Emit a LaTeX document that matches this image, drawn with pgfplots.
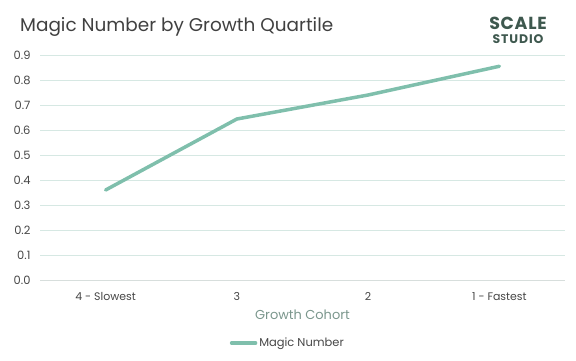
\documentclass[border=0pt]{standalone}
\usepackage{pgfplots}
\pgfplotsset{compat=1.18}
\usepackage{fontspec}
\setmainfont{Poppins}
\definecolor{linec}{RGB}{127,191,172}
\definecolor{gridc}{RGB}{214,232,227}
\definecolor{titlec}{RGB}{64,64,64}
\definecolor{labc}{RGB}{122,150,140}
\definecolor{logoc}{RGB}{62,88,78}
\definecolor{tickc}{RGB}{70,70,70}
\begin{document}
\begin{tikzpicture}[x=1bp,y=1bp]
\useasboundingbox (0,0) rectangle (576,360);
\node[anchor=base west,inner sep=0pt,text=titlec,font=\fontsize{18.5}{20}\selectfont] at (20,329) {Magic Number by Growth Quartile};
\node[anchor=base,inner sep=0pt,text=logoc,font=\fontsize{17.5}{18}\selectfont\bfseries\addfontfeatures{LetterSpace=4}] at (518,331) {SCALE};
\node[anchor=base,inner sep=0pt,text=logoc,font=\fontsize{12.5}{13}\selectfont\bfseries\addfontfeatures{LetterSpace=7}] at (518,317) {STUDIO};
\begin{axis}[
  at={(40bp,80bp)}, anchor=south west,
  width=525bp, height=225bp, scale only axis,
  xmin=-0.5, xmax=3.5, ymin=0, ymax=0.9,
  xtick={0,1,2,3}, xticklabels={4 - Slowest,3,2,1 - Fastest},
  ytick={0,0.1,...,0.9},
  yticklabel style={/pgf/number format/fixed, /pgf/number format/fixed zerofill, /pgf/number format/precision=1, xshift=-6bp, font=\fontsize{11.5}{12}\selectfont},
  /pgf/number format/assume math mode=true,
  ymajorgrids, grid style={gridc, line width=0.8bp},
  axis line style={draw=none},
  axis x line*=bottom,
  major tick length=0pt,
  tick label style={font=\fontsize{11}{12}\selectfont, text=tickc},
  xticklabel style={yshift=-9bp},
  xlabel={Growth Cohort},
  xlabel style={font=\fontsize{13}{14}\selectfont, text=labc, yshift=-2bp},
  legend style={at={(0.472,-0.28)}, anchor=center, draw=none, fill=none, font=\fontsize{11.5}{12}\selectfont, text=tickc, inner sep=0pt},
  legend image code/.code={\draw[#1, line width=3.5bp] (0bp,0bp) -- (24bp,0bp);},
  legend cell align=left,
  clip=false,
]
\draw[gridc!70!gray!60, line width=0.8bp] (axis cs:-0.5,0) -- (axis cs:3.5,0);
\addplot[linec, line width=3.5bp, line cap=round, line join=round] coordinates {
 (0,0.36) (1,0.644) (2,0.74) (3,0.855)
};
\addlegendentry{Magic Number}
\end{axis}
\end{tikzpicture}
\end{document}
